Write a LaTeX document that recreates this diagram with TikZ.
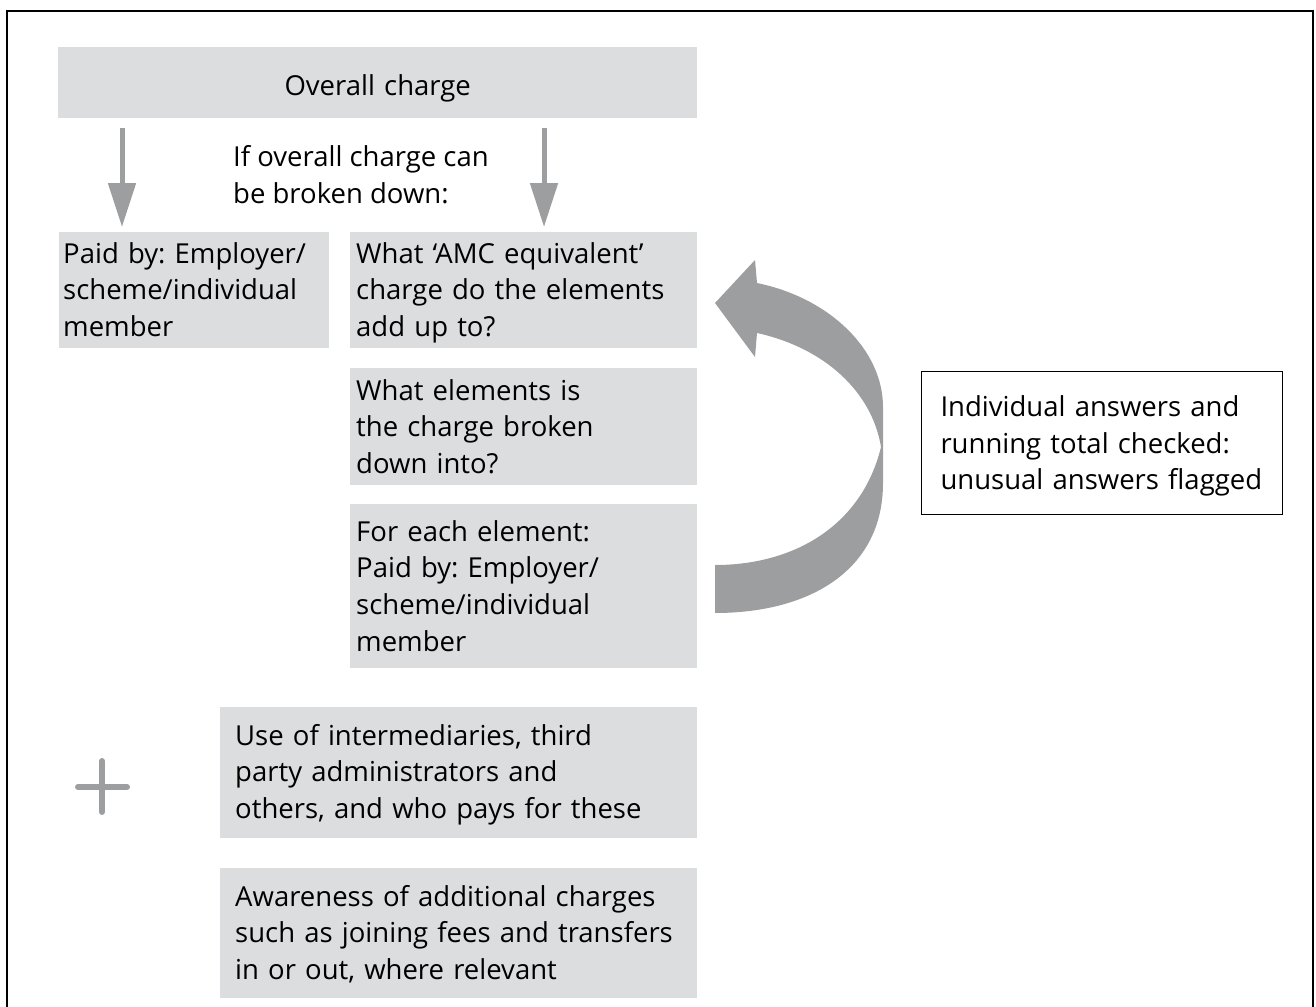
\documentclass[tikz,border=0pt]{standalone}
\usepackage{fontspec}
\setmainfont{Open Sans}
\usetikzlibrary{arrows.meta}
\definecolor{boxgrey}{RGB}{220,221,222}
\definecolor{arrowgrey}{RGB}{157,158,160}
\newcommand{\boxfont}{\fontsize{27.5}{36.7}\selectfont\frenchspacing}
\tikzset{
  greybox/.style={fill=boxgrey, anchor=north west, align=left, inner ysep=0pt, font=\boxfont},
  downarrow/.style={arrowgrey, line width=5pt, -{Triangle[length=44pt,width=27pt]}}
}

\begin{document}
\begin{tikzpicture}[x=1pt,y=-1pt]
\useasboundingbox (0,0) rectangle (1316,1006);
\draw[line width=2.2pt] (7,1030) -- (7,11) -- (1313,11) -- (1313,1030); %outer frame, open at the bottom
\node[greybox, align=center, text width=639pt, inner xsep=0pt, text height=48pt, text depth=23pt] (overall) at (58,47) {Overall charge};
\node[anchor=base west, align=left, inner sep=0pt, font=\boxfont] (ifbroken) at (233,203) {If overall charge can\\be broken down:};
\node[greybox, text width=262pt, inner xsep=4pt, text height=31pt, text depth=85pt] (paid) at (59,232) {Paid by: Employer/\\scheme/individual\\member};
\node[greybox, text width=335pt, inner xsep=6pt, text height=31pt, text depth=85pt] (amc) at (350,232) {What `AMC equivalent'\\charge do the elements\\add up to?};
\node[greybox, text width=335pt, inner xsep=6pt, text height=32pt, text depth=85pt] (elements) at (350,368) {What elements is\\the charge broken\\down into?};
\node[greybox, text width=335pt, inner xsep=6pt, text height=37pt, text depth=127pt] (foreach) at (350,504) {For each element:\\Paid by: Employer/\\scheme/individual\\member};
\node[draw, line width=1pt, anchor=north west, align=left, inner ysep=0pt, inner xsep=19pt, text width=323pt, text height=45pt, text depth=98pt, font=\boxfont] (checked) at (921,371) {Individual answers and\\running total checked:\\unusual answers flagged};
\node[greybox, text width=447pt, inner xsep=15pt, text height=38pt, text depth=93pt] (inter) at (220,707) {Use of intermediaries, third\\party administrators and\\others, and who pays for these};
\node[greybox, text width=447pt, inner xsep=15pt, text height=38pt, text depth=92pt] (aware) at (220,868) {Awareness of additional charges\\such as joining fees and transfers\\in or out, where relevant};
% the two straight arrows
\draw[downarrow] ([xshift=64pt,yshift=-10pt]overall.south west) -- ([xshift=63pt,yshift=5pt]paid.north west);
\draw[downarrow] ([xshift=486pt,yshift=-10pt]overall.south west) -- ([xshift=194pt,yshift=5pt]amc.north west);
% the loop arrow back up to the AMC box
\fill[arrowgrey] (715,613) .. controls (810,613) and (883,570) .. (883,483) -- (883,407)
  .. controls (883,350) and (830,298) .. (757,283) -- (755,260) -- (715,303) -- (755,357) -- (757,333)
  .. controls (825,348) and (872,392) .. (881,447)
  .. controls (862,525) and (795,565) .. (715,565) -- cycle;
% plus sign
\draw[arrowgrey, line width=6pt, line cap=round] (78,787) -- (127,787) (102,761) -- (102,812);
\end{tikzpicture}
\end{document}
